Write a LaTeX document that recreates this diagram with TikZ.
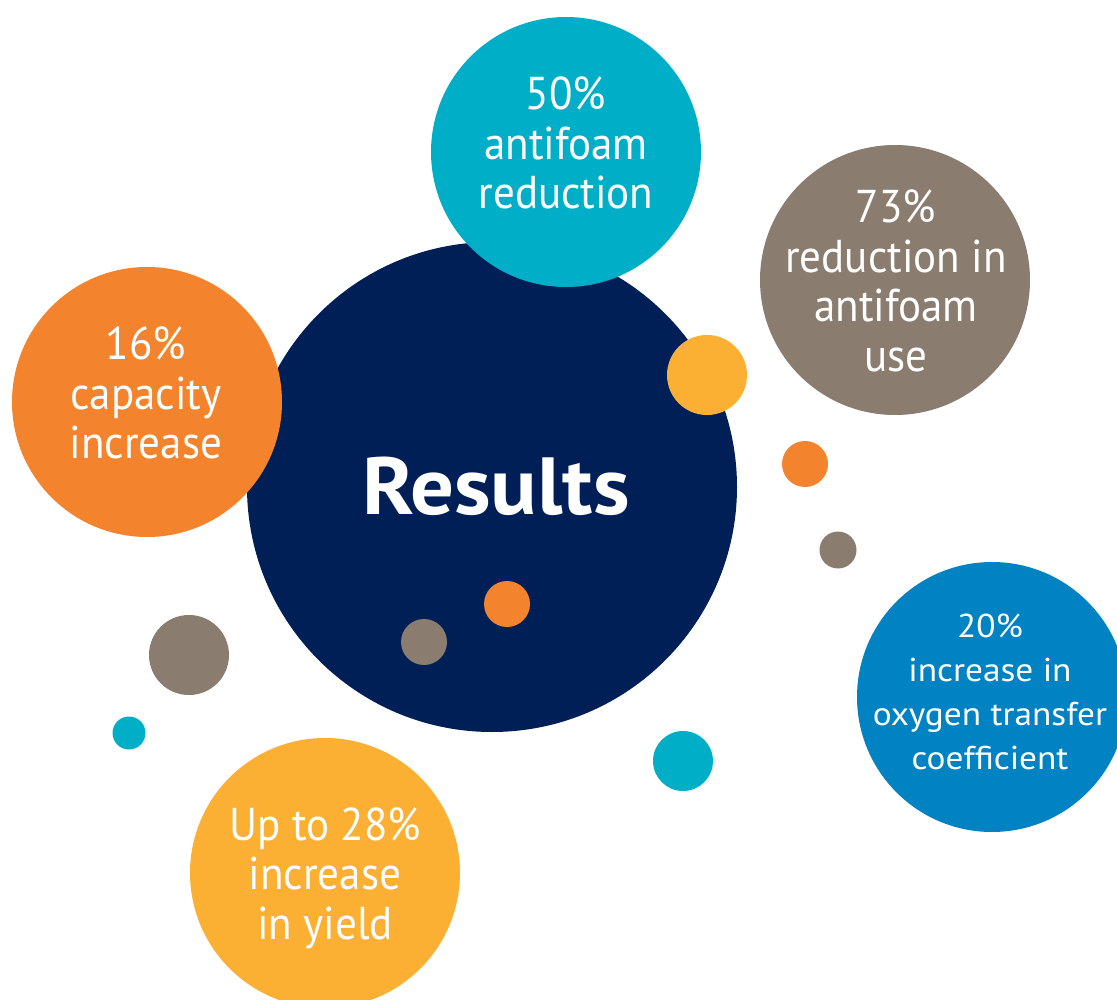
\documentclass[tikz,border=0pt]{standalone}
\usepackage{fontspec}
\setmainfont{PT Sans}[FakeStretch=0.935]
\newfontfamily\widefont{PT Sans}[FakeStretch=1.07]
\definecolor{navy}{HTML}{001F56}
\definecolor{teal}{HTML}{00AFC7}
\definecolor{stone}{HTML}{8A7D6F}
\definecolor{orng}{HTML}{F3832D}
\definecolor{ocean}{HTML}{0082C3}
\definecolor{sun}{HTML}{FBB034}
\begin{document}
\begin{tikzpicture}[x=1pt,y=-1pt,
  blob/.style={circle,inner sep=0pt,minimum size=#1},
  txt/.style={text=white,align=center,inner sep=0pt,font=\fontsize{46}{49.5}\selectfont},
  smalltxt/.style={text=white,align=center,inner sep=0pt,font=\widefont\fontsize{33}{44}\selectfont}]
\useasboundingbox (0,0) rectangle (1117,1000);
\clip (0,0) rectangle (1117,1000);
% main circle
\node[blob=490pt,fill=navy] (main) at (492,487) {};
% big satellites
\node[blob=270pt,fill=teal]  (c50) at (566,152) {};
\node[blob=270pt,fill=stone] (c73) at (895,280) {};
\node[blob=270pt,fill=orng]  (c16) at (147,402) {};
\node[blob=270pt,fill=ocean] (c20) at (992,697) {};
\node[blob=270pt,fill=sun]   (c28) at (325,873) {};
% small dots
\node[blob=80pt,fill=sun]   (d1) at (707,375) {};
\node[blob=46pt,fill=orng]  (d2) at (805,464) {};
\node[blob=37pt,fill=stone] (d3) at (838,550) {};
\node[blob=46pt,fill=orng]  (d4) at (507,604) {};
\node[blob=46pt,fill=stone] (d5) at (424,642) {};
\node[blob=80pt,fill=stone] (d6) at (189,655) {};
\node[blob=33pt,fill=teal]  (d7) at (129,733) {};
\node[blob=60pt,fill=teal]  (d8) at (683,761) {};
% texts
\node[text=white,inner sep=0pt,font=\widefont\fontsize{81}{81}\selectfont\bfseries] (tmain) at (496,486) {Results};
\node[txt] (t50) at (566,143) {50\%\\antifoam\\reduction};
\node[txt] (t73) at (896,281) {73\%\\reduction in\\antifoam\\use};
\node[txt] (t16) at (146,393) {16\%\\capacity\\increase};
\node[smalltxt] (t20) at (990,692) {20\%\\increase in\\oxygen transfer\\coefficient};
\node[txt] (t28) at (325,878) {Up to 28\%\\increase\\in yield};
\end{tikzpicture}
\end{document}
